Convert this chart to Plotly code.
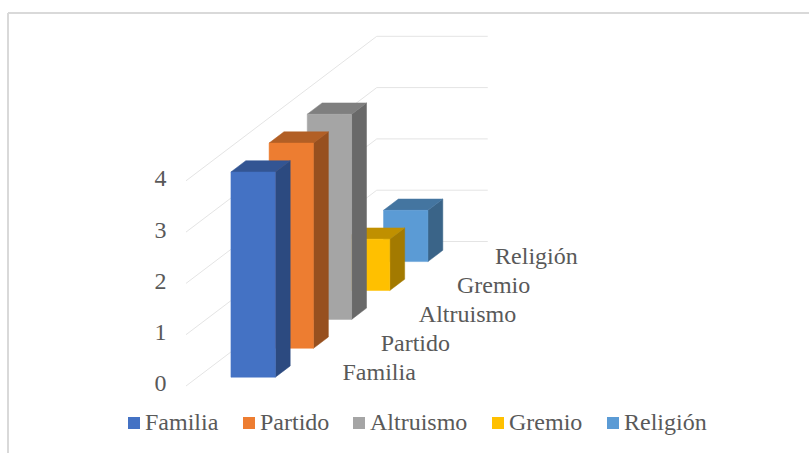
import plotly.graph_objects as go

categories = ["Familia", "Partido", "Altruismo", "Gremio", "Religión"]
values = [4, 4, 4, 1, 1]
front_colors = ["#4472C4", "#ED7D31", "#A5A5A5", "#FFC000", "#5B9BD5"]
side_colors = ["#2C4A80", "#97501F", "#696969", "#A37A00", "#3A6488"]
top_colors = ["#335593", "#B25F25", "#7F7F7F", "#C09000", "#4475A0"]
value_ticks = [0, 1, 2, 3, 4]

W, H = 809, 453
ORIGIN_X, ORIGIN_Y = 186.0, 386.0   # pixel position of the floor's front-left corner
UNIT_X, UNIT_Y = 111.0, 51.3        # pixels per floor width, pixels per value unit
STEP_X, STEP_Y = 38.15, 28.9        # pixels per category of depth
BAR_WIDTH = 0.40                    # share of the floor width
BAR_DEPTH = 0.39                    # share of a category's depth
GRID = "#E4E4E4"
TEXT = "#595959"
FONT = "Liberation Serif, Times New Roman, serif"


def proj(u, t, v):
    """Oblique projection: u across, t into depth, v up -> 2D axis coordinates."""
    return u + t * STEP_X / UNIT_X, v + t * STEP_Y / UNIT_Y


def poly(points, color):
    xs, ys = zip(*[proj(*p) for p in points + points[:1]])
    return go.Scatter(x=xs, y=ys, mode="lines", fill="toself", fillcolor=color,
                      line=dict(color=color, width=0.5), hoverinfo="skip",
                      showlegend=False)


def px(x, y):
    return (x - ORIGIN_X) / UNIT_X, (ORIGIN_Y - y) / UNIT_Y


fig = go.Figure()

# Gridlines: along the side floor edge, then across the back wall
n = len(categories)
for v in value_ticks:
    xs, ys = zip(proj(0, 0, v), proj(0, n, v), proj(1, n, v))
    fig.add_trace(go.Scatter(x=xs, y=ys, mode="lines", line=dict(color=GRID, width=1),
                             hoverinfo="skip", showlegend=False))

# Bars, drawn from the back to the front
u0 = (1 - BAR_WIDTH) / 2
u1 = u0 + BAR_WIDTH
for i in reversed(range(n)):
    t0 = i + (1 - BAR_DEPTH) / 2
    t1 = t0 + BAR_DEPTH
    h = values[i]
    fig.add_trace(poly([(u1, t0, 0), (u1, t1, 0), (u1, t1, h), (u1, t0, h)], side_colors[i]))
    fig.add_trace(poly([(u0, t0, h), (u1, t0, h), (u1, t1, h), (u0, t1, h)], top_colors[i]))
    fig.add_trace(poly([(u0, t0, 0), (u1, t0, 0), (u1, t0, h), (u0, t0, h)], front_colors[i]))

# Value axis labels
lab_u = (160.5 - ORIGIN_X) / UNIT_X
tx, ty = zip(*[proj(lab_u, 0, v + 0.01) for v in value_ticks])
fig.add_trace(go.Scatter(x=tx, y=ty, mode="text", text=[str(v) for v in value_ticks],
                         textposition="middle center",
                         textfont=dict(family=FONT, size=24, color=TEXT),
                         hoverinfo="skip", showlegend=False))

# Category axis labels
cat_u, cat_v = 1.410, 0.235
tx, ty = zip(*[proj(cat_u, i, cat_v) for i in range(n)])
fig.add_trace(go.Scatter(x=tx, y=ty, mode="text", text=categories,
                         textposition="middle right",
                         textfont=dict(family=FONT, size=24, color=TEXT),
                         hoverinfo="skip", showlegend=False))

# Legend row
legend_px = [128, 243, 353, 492, 607]
for name, color, lx in zip(categories, front_colors, legend_px):
    x, y = px(lx + 6, 423)
    fig.add_trace(go.Scatter(x=[x], y=[y], mode="markers",
                             marker=dict(symbol="square", size=12, color=color),
                             hoverinfo="skip", showlegend=False))
    x, y = px(lx + 17, 423.5)
    fig.add_trace(go.Scatter(x=[x], y=[y], mode="text", text=[name],
                             textposition="middle right",
                             textfont=dict(family=FONT, size=24, color=TEXT),
                             hoverinfo="skip", showlegend=False))

# Frame
frame = dict(type="line", xref="paper", yref="paper",
             line=dict(color="#D9D9D9", width=2))
fig.add_shape(x0=8 / W, x1=1, y0=1 - 13 / H, y1=1 - 13 / H, **frame)
fig.add_shape(x0=8 / W, x1=8 / W, y0=0, y1=1 - 13 / H, **frame)

fig.update_layout(
    width=W, height=H, margin=dict(l=0, r=0, t=0, b=0),
    paper_bgcolor="white", plot_bgcolor="white", showlegend=False,
    xaxis=dict(range=[(0 - ORIGIN_X) / UNIT_X, (W - ORIGIN_X) / UNIT_X], visible=False),
    yaxis=dict(range=[(ORIGIN_Y - H) / UNIT_Y, ORIGIN_Y / UNIT_Y], visible=False),
)
fig.write_html("out.html", config={"displayModeBar": False},
               post_script="document.body.style.margin='0';document.body.style.overflow='hidden';")
